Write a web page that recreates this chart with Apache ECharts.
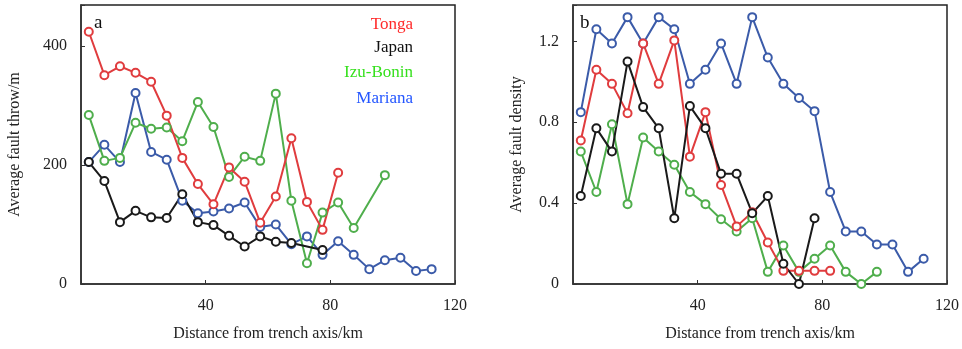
<!DOCTYPE html>
<html>
<head>
<meta charset="utf-8">
<script src="https://cdn.jsdelivr.net/npm/echarts@6/dist/echarts.min.js"></script>
<style>
html,body{margin:0;padding:0;background:#fff;}
#c{width:962px;height:349px;}
</style>
</head>
<body>
<div id="c"></div>
<script>
// ---- data ----
const seriesNames = ['Tonga', 'Japan', 'Izu-Bonin', 'Mariana'];
const panelLetters = ['a', 'b'];
const xTickLabels = [40, 80, 120];
const throwTickLabels = [0, 200, 400];
const densityTickLabels = [0, 0.4, 0.8, 1.2];

// panel a: average fault throw (m)
const tongaThrowX   = [2.5,7.5,12.5,17.5,22.5,27.5,32.5,37.5,42.5,47.5,52.5,57.5,62.5,67.5,72.5,77.5,82.5];
const tongaThrow    = [424,351,366,355,340,283,212,168,134,196,172,103,147,245,138,91,187];
const japanThrowX   = [2.5,7.5,12.5,17.5,22.5,27.5,32.5,37.5,42.5,47.5,52.5,57.5,62.5,67.5,77.5];
const japanThrow    = [205,173,104,123,112,111,151,104,99,81,63,80,71,69,57];
const izuThrowX     = [2.5,7.5,12.5,17.5,22.5,27.5,32.5,37.5,42.5,47.5,52.5,57.5,62.5,67.5,72.5,77.5,82.5,87.5,97.5];
const izuThrow      = [284,207,212,271,261,263,240,306,264,180,214,207,320,140,35,120,137,94,183];
const marianaThrowX = [2.5,7.5,12.5,17.5,22.5,27.5,32.5,37.5,42.5,47.5,52.5,57.5,62.5,67.5,72.5,77.5,82.5,87.5,92.5,97.5,102.5,107.5,112.5];
const marianaThrow  = [205,234,205,321,222,209,140,119,122,127,137,96,100,67,80,49,72,49,25,40,44,22,25];

// panel b: average fault density
const tongaDensX    = [2.5,7.5,12.5,17.5,22.5,27.5,32.5,37.5,42.5,47.5,52.5,57.5,62.5,67.5,72.5,77.5,82.5];
const tongaDens     = [0.71,1.06,0.99,0.845,1.19,0.99,1.205,0.63,0.85,0.49,0.285,0.355,0.205,0.065,0.065,0.065,0.065];
const japanDensX    = [2.5,7.5,12.5,17.5,22.5,27.5,32.5,37.5,42.5,47.5,52.5,57.5,62.5,67.5,72.5,77.5];
const japanDens     = [0.435,0.77,0.655,1.10,0.875,0.77,0.325,0.88,0.77,0.545,0.545,0.35,0.435,0.10,0.0,0.325];
const izuDensX      = [2.5,7.5,12.5,17.5,22.5,27.5,32.5,37.5,42.5,47.5,52.5,57.5,62.5,67.5,72.5,77.5,82.5,87.5,92.5,97.5];
const izuDens       = [0.655,0.455,0.79,0.395,0.725,0.655,0.59,0.455,0.395,0.32,0.26,0.325,0.06,0.19,0.06,0.125,0.19,0.06,0.0,0.06];
const marianaDensX  = [2.5,7.5,12.5,17.5,22.5,27.5,32.5,37.5,42.5,47.5,52.5,57.5,62.5,67.5,72.5,77.5,82.5,87.5,92.5,97.5,102.5,107.5,112.5];
const marianaDens   = [0.85,1.26,1.19,1.32,1.19,1.32,1.26,0.99,1.06,1.19,0.99,1.32,1.12,0.99,0.92,0.855,0.455,0.26,0.26,0.195,0.195,0.06,0.125];

// ---- styling ----
const FONT = "'Liberation Serif','Times New Roman',serif";
const lineColors = {'Tonga':'#e03c3e','Japan':'#1a1a1a','Izu-Bonin':'#4fae4c','Mariana':'#3b5ba9'};
const textColors = {'Tonga':'#ff2a2a','Japan':'#111111','Izu-Bonin':'#35e01c','Mariana':'#2456ff'};

function pairs(xs, ys){ return xs.map((x,i)=>[x, ys[i]]); }
function isTick(v, list){ return list.some(t => Math.abs(t - v) < 1e-6); }

const chart = echarts.init(document.getElementById('c'), null, {renderer:'canvas'});

function xAxis(gi){
  return {
    gridIndex: gi, type:'value', min:0, max:120, interval:40,
    name:'Distance from trench axis/km', nameLocation:'middle', nameGap:42,
    nameTextStyle:{fontFamily:FONT, fontSize:16, color:'#222'},
    axisLine:{show:true, lineStyle:{color:'#333', width:1.5}},
    axisTick:{show:true, inside:true, length:4, lineStyle:{color:'#333'}},
    axisLabel:{fontFamily:FONT, fontSize:16, color:'#222', margin:14,
      formatter: v => isTick(v, xTickLabels) ? String(v) : ''},
    splitLine:{show:false}
  };
}
function yAxis(gi, max, interval, name, ticks, gap){
  return {
    gridIndex: gi, type:'value', min:0, max:max, interval:interval,
    name:name, nameLocation:'middle', nameGap:gap,
    nameTextStyle:{fontFamily:FONT, fontSize:16, color:'#222'},
    axisLine:{show:true, lineStyle:{color:'#333', width:1.5}},
    axisTick:{show:true, inside:true, length:4, lineStyle:{color:'#333'}},
    axisLabel:{fontFamily:FONT, fontSize:16, color:'#222', margin:14,
      formatter: v => isTick(v, ticks) ? String(v) : ''},
    splitLine:{show:false}
  };
}
function lineSeries(name, gi, data){
  return {
    name:name, type:'line', xAxisIndex:gi, yAxisIndex:gi, data:data,
    symbol:'emptyCircle', symbolSize:8,
    lineStyle:{color:lineColors[name], width:2},
    itemStyle:{color:lineColors[name], borderColor:lineColors[name], borderWidth:2},
    animation:false
  };
}

const throwData = {
  'Tonga': pairs(tongaThrowX, tongaThrow),
  'Japan': pairs(japanThrowX, japanThrow),
  'Izu-Bonin': pairs(izuThrowX, izuThrow),
  'Mariana': pairs(marianaThrowX, marianaThrow)
};
const densData = {
  'Tonga': pairs(tongaDensX, tongaDens),
  'Japan': pairs(japanDensX, japanDens),
  'Izu-Bonin': pairs(izuDensX, izuDens),
  'Mariana': pairs(marianaDensX, marianaDens)
};
const drawOrder = ['Mariana','Izu-Bonin','Tonga','Japan'];

const series = [];
drawOrder.forEach(n => series.push(lineSeries(n, 0, throwData[n])));
drawOrder.forEach(n => series.push(lineSeries(n, 1, densData[n])));

const legendTexts = seriesNames.map((n,i)=>({
  type:'text', right: 962-413, top: [16,39,64,90][i],
  style:{text:n, fill:textColors[n], font:"17px 'Liberation Serif','Times New Roman',serif", textAlign:'right'}
}));

chart.setOption({
  backgroundColor:'#fff',
  animation:false,
  grid:[
    {left:81, top:5, width:374, height:279, show:true, borderColor:'#222', borderWidth:1.5, backgroundColor:'transparent', containLabel:false},
    {left:573, top:5, width:375, height:279, show:true, borderColor:'#222', borderWidth:1.5, backgroundColor:'transparent', containLabel:false}
  ],
  xAxis:[xAxis(0), xAxis(1)],
  yAxis:[
    yAxis(0, 469, 200, 'Average fault throw/m', throwTickLabels, 58),
    yAxis(1, 1.38, 0.4, 'Average fault density', densityTickLabels, 48)
  ],
  series: series,
  graphic: [
    {type:'text', left:94, top:14, style:{text:panelLetters[0], fill:'#111', font:"19px 'Liberation Serif','Times New Roman',serif"}},
    {type:'text', left:580, top:14, style:{text:panelLetters[1], fill:'#111', font:"19px 'Liberation Serif','Times New Roman',serif"}}
  ].concat(legendTexts)
});
</script>
</body>
</html>
